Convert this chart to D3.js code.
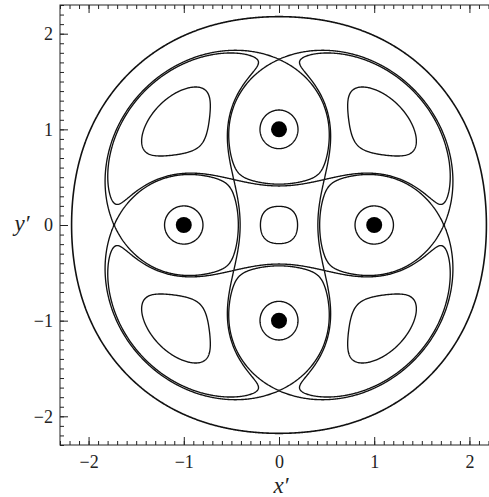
<!DOCTYPE html>
<html>
<head>
<meta charset="utf-8">
<script src="https://cdn.jsdelivr.net/npm/d3@7"></script>
<style>
  body { margin: 0; background: #fff; }
  svg { display: block; }
  .axis line { stroke: #222; }
  .axis path { display: none; }
  .title { font-family: "Liberation Serif", "DejaVu Serif", serif; font-size: 23px; font-style: italic; fill: #222; }
</style>
</head>
<body>
<svg id="chart" width="489" height="497"></svg>
<script>
// four point vortices on the unit square
var vortexX = [1, 0, -1, 0],
  vortexY = [0, 1, 0, -1],
  vortexStrength = [1, 1, 1, 1];
// rotation rate of the co-rotating frame (x', y')
var omega = 1.5;

// streamlines drawn: stream function level, and the size range (data units)
// of the closed curves kept at that level
var levels = [1.0, 0.03, -0.03, 0.1531, 0.1706, 0.49];
var keepSpan = [[0, 1], [0, 0.6], [0, 99], [0, 99], [0, 99], [3, 99]];

var xMajor = [-2, -1, 0, 1, 2],
  yMajor = [-2, -1, 0, 1, 2];

var svg = d3.select("#chart"),
  margin = {top: 5, left: 60},
  width = 438,
  height = 440,
  serif = "'Liberation Serif', 'DejaVu Serif', serif";

var x = d3.scaleLinear().domain([-2.3, 2.3]).range([margin.left, margin.left + width]),
  y = d3.scaleLinear().domain([-2.3, 2.3]).range([margin.top + height, margin.top]);

svg.append("defs").append("clipPath")
  .attr("id", "clip")
  .append("rect")
  .attr("x", margin.left)
  .attr("y", margin.top)
  .attr("width", width)
  .attr("height", height);

// stream function on a grid a bit larger than the plot
var gx0 = -2.6, gStep = 0.008, gN = 651;

function streamFunction(px, py) {
  var psi = 0.5 * omega * (px * px + py * py);
  for (var k = 0; k < vortexX.length; k++) {
    var dx = px - vortexX[k], dy = py - vortexY[k];
    psi -= vortexStrength[k] * 0.5 * Math.log(dx * dx + dy * dy);
  }
  return Math.min(psi, 20);
}

var values = new Float64Array(gN * gN);
for (var j = 0; j < gN; j++) {
  for (var i = 0; i < gN; i++) {
    values[j * gN + i] = streamFunction(gx0 + i * gStep, gx0 + j * gStep);
  }
}

var contourGen = d3.contours().size([gN, gN]);
var gridX = function(c) { return gx0 + (c - 0.5) * gStep; };

var rings = [];
levels.forEach(function(level, li) {
  var mp = contourGen.contour(values, level);
  mp.coordinates.forEach(function(poly) {
    poly.forEach(function(ring) {
      var ex = d3.extent(ring, function(p) { return p[0]; }),
        ey = d3.extent(ring, function(p) { return p[1]; });
      var span = Math.max(ex[1] - ex[0], ey[1] - ey[0]) * gStep;
      if (span >= keepSpan[li][0] && span <= keepSpan[li][1]) {
        rings.push({level: level, points: ring});
      }
    });
  });
});

var line = d3.line()
  .x(function(p) { return x(gridX(p[0])); })
  .y(function(p) { return y(gridX(p[1])); });

svg.append("g")
  .attr("clip-path", "url(#clip)")
  .selectAll("path")
  .data(rings)
  .enter().append("path")
  .attr("d", function(d) { return line(d.points) + "Z"; })
  .attr("fill", "none")
  .attr("stroke", "#111")
  .attr("stroke-width", function(d) { return d.level === 0.49 ? 1.6 : 1.35; });

// vortex cores
svg.append("g")
  .selectAll("circle")
  .data(vortexX)
  .enter().append("circle")
  .attr("cx", function(d) { return x(d); })
  .attr("cy", function(d, i) { return y(vortexY[i]); })
  .attr("r", 8)
  .attr("fill", "#000");

// axes, ticks pointing inwards
var minorX = x.ticks(46),
  minorY = y.ticks(46),
  fmt = d3.format("d");

function styleAxis(g) {
  g.attr("font-family", serif).attr("font-size", 18);
  g.selectAll("text").attr("fill", "#222");
}

svg.append("g").attr("class", "axis")
  .attr("transform", "translate(0," + (margin.top + height) + ")")
  .call(d3.axisBottom(x).tickValues(minorX).tickSize(-4).tickFormat(""));
svg.append("g").attr("class", "axis")
  .attr("transform", "translate(0," + (margin.top + height) + ")")
  .call(d3.axisBottom(x).tickValues(xMajor).tickSize(-8).tickPadding(10).tickFormat(fmt))
  .call(styleAxis);

svg.append("g").attr("class", "axis")
  .attr("transform", "translate(0," + margin.top + ")")
  .call(d3.axisTop(x).tickValues(minorX).tickSize(-4).tickFormat(""));
svg.append("g").attr("class", "axis")
  .attr("transform", "translate(0," + margin.top + ")")
  .call(d3.axisTop(x).tickValues(xMajor).tickSize(-8).tickFormat(""));

svg.append("g").attr("class", "axis")
  .attr("transform", "translate(" + margin.left + ",0)")
  .call(d3.axisLeft(y).tickValues(minorY).tickSize(-4).tickFormat(""));
svg.append("g").attr("class", "axis")
  .attr("transform", "translate(" + margin.left + ",0)")
  .call(d3.axisLeft(y).tickValues(yMajor).tickSize(-8).tickPadding(7).tickFormat(fmt))
  .call(styleAxis);

svg.append("rect")
  .attr("x", margin.left)
  .attr("y", margin.top)
  .attr("width", width)
  .attr("height", height)
  .attr("fill", "none")
  .attr("stroke", "#222")
  .attr("stroke-width", 1);

svg.append("text").attr("class", "title")
  .attr("x", x(0) + 2)
  .attr("y", 493)
  .attr("text-anchor", "middle")
  .text("x\u2032");

svg.append("text").attr("class", "title")
  .attr("x", 22)
  .attr("y", y(0) + 6)
  .attr("text-anchor", "middle")
  .text("y\u2032");
</script>
</body>
</html>
